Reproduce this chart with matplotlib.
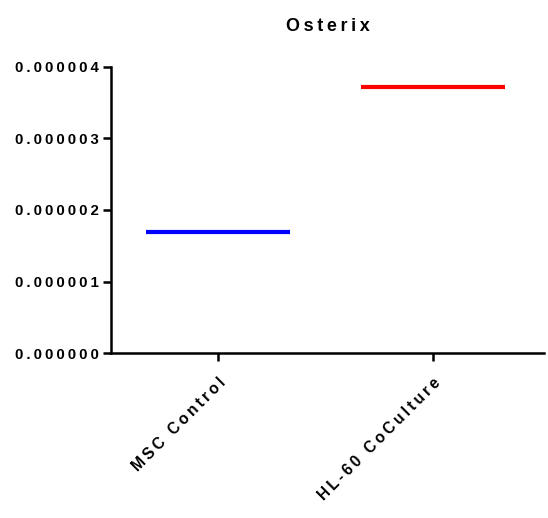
import numpy as np
import matplotlib.pyplot as plt

plt.rcParams['font.family'] = ['Liberation Sans', 'DejaVu Sans']
plt.rcParams['font.weight'] = 'bold'

groups = ["MSC Control", "HL-60 CoCulture"]
means = [1.69e-6, 3.72e-6]
colors = ["#0000ff", "#ff0000"]
yticks = [0, 1e-6, 2e-6, 3e-6, 4e-6]


def spaced(s):
    # Prism-like letter spacing
    return "\u2009".join(s)


fig = plt.figure(figsize=(5.48, 5.18), dpi=100)
ax = fig.add_axes([0.2026, 0.3185, 0.79, 0.5522])

x = np.arange(len(groups))
for xi, m, c in zip(x, means, colors):
    ax.hlines(m, xi - 0.333, xi + 0.333, color=c, linewidth=3)

ax.set_xlim(-0.498, 1.516)
ax.set_ylim(0, 4e-6)
ax.set_yticks(yticks)
ax.set_yticklabels([spaced("%.6f" % v) for v in yticks], fontsize=10.8, fontweight='bold')
ax.set_xticks(x)
ax.set_xticklabels([spaced(g) for g in groups], fontsize=11.2, fontweight='bold',
                   rotation=45, ha='right', rotation_mode='anchor')

for s in ['top', 'right']:
    ax.spines[s].set_visible(False)
for s in ['left', 'bottom']:
    ax.spines[s].set_linewidth(1.8)
ax.tick_params(width=1.8, length=6, pad=3)
ax.tick_params(axis='x', pad=10)

ax.set_title(spaced("Osterix"), fontsize=13, fontweight='bold', pad=26)

fig.savefig("out.png", dpi=100)
